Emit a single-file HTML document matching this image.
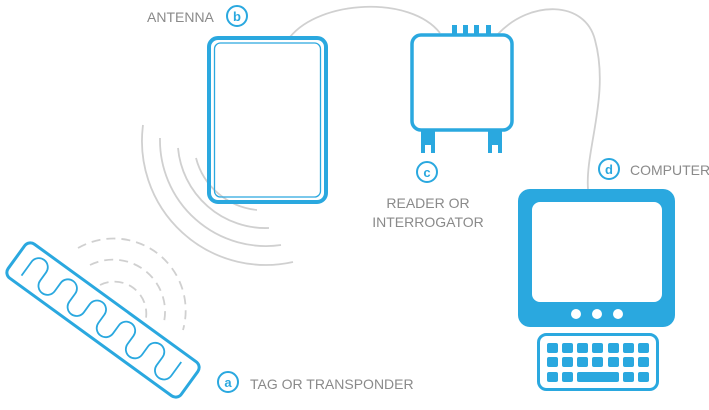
<!DOCTYPE html>
<html><head><meta charset="utf-8"><style>
html,body{margin:0;padding:0;background:#fff;width:709px;height:410px;overflow:hidden}
svg{display:block}
text{font-family:"Liberation Sans",sans-serif;fill:#8a8a8a;font-size:14px}
.c{fill:#2aa8df;font-weight:bold;font-size:13px}
</style></head><body>
<svg width="709" height="410" viewBox="0 0 709 410">
<g fill="none" stroke="#d0d0d0" stroke-width="1.8">
  <path d="M290,37 C320,0 410,-5 440,33"/>
  <path d="M498,34 C530,0 585,0 595,40 C610,95 585,150 588,189"/>
  <path d="M196,158 A70,70 0 0 0 257,210"/>
  <path d="M178,148 A88,88 0 0 0 269,228"/>
  <path d="M160,138 A106,106 0 0 0 281,245"/>
  <path d="M143,125 A124,124 0 0 0 293,262"/>
  <g stroke-dasharray="9,6">
   <path d="M100,285 A32,32 0 0 1 146,318"/>
   <path d="M90,265 A52,52 0 0 1 164,322"/>
   <path d="M78,248 A72,72 0 0 1 183,330"/>
  </g>
</g>
<g fill="none" stroke="#2aa8df">
  <rect x="209" y="38" width="117" height="164" rx="9" stroke-width="4"/>
  <rect x="214.5" y="43" width="106" height="154" rx="6" stroke-width="1.3"/>
  <rect x="412" y="35" width="100" height="95" rx="9" stroke-width="3.5"/>
  <g transform="translate(103,320) rotate(36)">
    <rect x="-107" y="-21" width="214" height="42" rx="7" stroke-width="3"/>
    <path d="M-92,12 L-92,-5 a9,9 0 0 1 18,0 L-74,5 a9,9 0 0 0 18,0 L-56,-5 a9,9 0 0 1 18,0 L-38,5 a9,9 0 0 0 18,0 L-20,-5 a9,9 0 0 1 18,0 L-2,5 a9,9 0 0 0 18,0 L16,-5 a9,9 0 0 1 18,0 L34,5 a9,9 0 0 0 18,0 L52,-5 a9,9 0 0 1 18,0 L70,5 a9,9 0 0 0 18,0 L88,-12" stroke-width="1.8"/>
  </g>
  <circle cx="237" cy="16" r="10" stroke-width="2"/>
  <circle cx="427" cy="172" r="10" stroke-width="2"/>
  <circle cx="609" cy="169" r="10" stroke-width="2"/>
  <circle cx="228" cy="382" r="10" stroke-width="2"/>
  <rect x="538.5" y="334.5" width="119" height="55" rx="8" stroke-width="3"/>
</g>
<g fill="#2aa8df">
  <rect x="452" y="25" width="5" height="10"/><rect x="463" y="25" width="5" height="10"/>
  <rect x="474" y="25" width="5" height="10"/><rect x="486" y="25" width="5" height="10"/>
  <path d="M421,130 h14 v23 h-4 v-8 h-6 v8 h-4 z"/>
  <path d="M488,130 h14 v23 h-4 v-8 h-6 v8 h-4 z"/>
  <path fill-rule="evenodd" d="M530,189 h133 a12,12 0 0 1 12,12 v114 a12,12 0 0 1 -12,12 h-133 a12,12 0 0 1 -12,-12 v-114 a12,12 0 0 1 12,-12 z M540,202 h114 a8,8 0 0 1 8,8 v84 a8,8 0 0 1 -8,8 h-114 a8,8 0 0 1 -8,-8 v-84 a8,8 0 0 1 8,-8 z"/>
  <g>
   <rect x="547" y="343" width="11" height="10" rx="2"/><rect x="562" y="343" width="11" height="10" rx="2"/><rect x="577" y="343" width="11" height="10" rx="2"/><rect x="592" y="343" width="11" height="10" rx="2"/><rect x="608" y="343" width="11" height="10" rx="2"/><rect x="623" y="343" width="11" height="10" rx="2"/><rect x="638" y="343" width="11" height="10" rx="2"/>
   <rect x="547" y="357" width="11" height="10" rx="2"/><rect x="562" y="357" width="11" height="10" rx="2"/><rect x="577" y="357" width="11" height="10" rx="2"/><rect x="592" y="357" width="11" height="10" rx="2"/><rect x="608" y="357" width="11" height="10" rx="2"/><rect x="623" y="357" width="11" height="10" rx="2"/><rect x="638" y="357" width="11" height="10" rx="2"/>
   <rect x="547" y="372" width="11" height="10" rx="2"/><rect x="562" y="372" width="11" height="10" rx="2"/><rect x="577" y="372" width="42" height="10" rx="2"/><rect x="623" y="372" width="11" height="10" rx="2"/><rect x="638" y="372" width="11" height="10" rx="2"/>
  </g>
</g>
<g fill="#fff"><circle cx="576" cy="314" r="5"/><circle cx="597" cy="314" r="5"/><circle cx="618" cy="314" r="5"/></g>
<text class="c" x="237" y="21" text-anchor="middle">b</text>
<text class="c" x="427" y="177" text-anchor="middle">c</text>
<text class="c" x="609" y="174" text-anchor="middle">d</text>
<text class="c" x="228" y="387" text-anchor="middle">a</text>
<text x="147" y="22">ANTENNA</text>
<text x="428" y="208" text-anchor="middle">READER OR</text>
<text x="428" y="227" text-anchor="middle">INTERROGATOR</text>
<text x="630" y="175">COMPUTER</text>
<text x="250" y="389">TAG OR TRANSPONDER</text>
</svg>
</body></html>
